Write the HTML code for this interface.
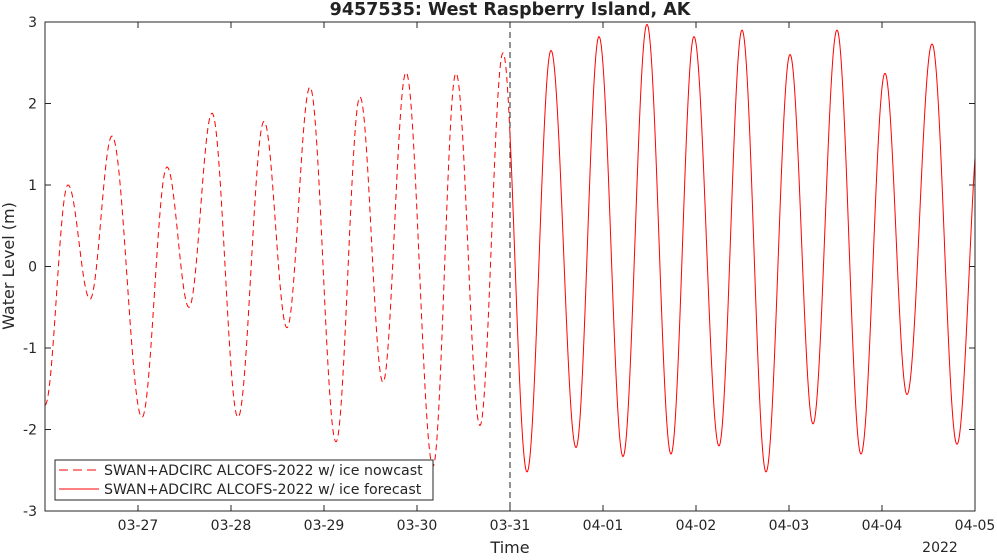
<!DOCTYPE html>
<html><head><meta charset="utf-8"><style>
body{margin:0;background:#fff;}
svg text{font-family:"DejaVu Sans","Liberation Sans",sans-serif;}
</style></head><body>
<svg id="chart" width="997" height="555" xmlns="http://www.w3.org/2000/svg">
<rect x="0" y="0" width="997" height="555" fill="#fff"/>
<text x="510" y="15" text-anchor="middle" font-size="17.5" font-weight="bold" fill="#222">9457535: West Raspberry Island, AK</text>
<g id="plot"></g>
<rect x="45" y="22" width="930" height="489" fill="none" stroke="#262626" stroke-width="1"/>
<text transform="translate(14,266) rotate(-90)" text-anchor="middle" font-size="16" fill="#262626">Water Level (m)</text>
<text x="510" y="553" text-anchor="middle" font-size="16" fill="#262626">Time</text>
<text x="940" y="552" text-anchor="middle" font-size="14" fill="#262626">2022</text>
<g>
<rect x="55" y="460" width="378" height="40" fill="#fff" stroke="#262626" stroke-width="1"/>
<line x1="59" y1="470" x2="99" y2="470" stroke="#f00" stroke-dasharray="9,5"/>
<text x="104" y="475" font-size="14.2" fill="#262626">SWAN+ADCIRC ALCOFS-2022 w/ ice nowcast</text>
<line x1="59" y1="489" x2="99" y2="489" stroke="#f00"/>
<text x="104" y="494" font-size="14.2" fill="#262626">SWAN+ADCIRC ALCOFS-2022 w/ ice forecast</text>
</g>
</svg>
<script>
// extrema: time in days since 03-26 00:00, water level in m
const extremaTimes=[0,0.247,0.484,0.720,1.043,1.312,1.548,1.796,2.075,2.355,2.602,2.849,3.129,3.387,3.634,3.882,4.172,4.419,4.677,4.925,5.183,5.441,5.710,5.957,6.215,6.473,6.731,6.978,7.247,7.495,7.753,8.011,8.258,8.516,8.774,9.032,9.269,9.538,9.806,10.065];
const extremaLevels=[-1.7,1.0,-0.4,1.6,-1.85,1.22,-0.5,1.88,-1.85,1.78,-0.75,2.2,-2.15,2.08,-1.42,2.38,-2.45,2.37,-1.95,2.62,-2.52,2.65,-2.22,2.82,-2.33,2.97,-2.3,2.82,-2.2,2.9,-2.52,2.6,-1.93,2.9,-2.3,2.37,-1.57,2.73,-2.18,1.95];
const forecastStart=5.0;
const xTickLabels=["03-27","03-28","03-29","03-30","03-31","04-01","04-02","04-03","04-04","04-05"];
const xTickDays=[1,2,3,4,5,6,7,8,9,10];
const yTicks=[-3,-2,-1,0,1,2,3];

const X0=45,X1=975,Y0=22,Y1=511,T0=0,T1=10,V0=-3,V1=3;
const xs=t=>X0+(t-T0)/(T1-T0)*(X1-X0);
const ys=v=>Y1-(v-V0)/(V1-V0)*(Y1-Y0);
const NS="http://www.w3.org/2000/svg";
const plot=document.getElementById('plot');
function el(tag,attrs){const e=document.createElementNS(NS,tag);for(const k in attrs)e.setAttribute(k,attrs[k]);plot.appendChild(e);return e;}
function level(t){
  for(let i=0;i<extremaTimes.length-1;i++){
    const a=extremaTimes[i],b=extremaTimes[i+1];
    if(t>=a&&t<=b){const f=(t-a)/(b-a);return extremaLevels[i]+(extremaLevels[i+1]-extremaLevels[i])*(1-Math.cos(Math.PI*f))/2;}
  }
  return extremaLevels[extremaLevels.length-1];
}
function path(ta,tb){let d="";const n=Math.round((tb-ta)*400);for(let i=0;i<=n;i++){const t=ta+(tb-ta)*i/n;d+=(i?"L":"M")+xs(t).toFixed(2)+","+ys(level(t)).toFixed(2);}return d;}
yTicks.forEach(v=>{
  const l=el('line',{x1:X0,x2:X0+6,y1:ys(v),y2:ys(v),stroke:'#262626'});
  
  const r=el('line',{x1:X1-6,x2:X1,y1:ys(v),y2:ys(v),stroke:'#262626'});
  
  const tx=el('text',{x:X0-8,y:ys(v)+5,'text-anchor':'end','font-size':14,fill:'#262626'});
  tx.textContent=String(v);
  
});
xTickDays.forEach((d,i)=>{
  const l=el('line',{x1:xs(d),x2:xs(d),y1:Y1,y2:Y1-6,stroke:'#262626'});
  
  const u=el('line',{x1:xs(d),x2:xs(d),y1:Y0,y2:Y0+6,stroke:'#262626'});
  
  const tx=el('text',{x:xs(d),y:530,'text-anchor':'middle','font-size':14,fill:'#262626'});
  tx.textContent=xTickLabels[i];
  
});
const vl=el('line',{x1:xs(forecastStart),x2:xs(forecastStart),y1:Y0,y2:Y1,stroke:'#262626','stroke-dasharray':'6,4'});

el('clipPath',{id:'clip'}).appendChild(document.createElementNS(NS,'rect'));
const cr=document.querySelector('#clip rect');cr.setAttribute('x',X0);cr.setAttribute('y',Y0);cr.setAttribute('width',X1-X0);cr.setAttribute('height',Y1-Y0);
const now=el('path',{d:path(T0,forecastStart),fill:'none',stroke:'#f00','stroke-width':1,'stroke-dasharray':'6,4','clip-path':'url(#clip)'});

const fc=el('path',{d:path(forecastStart,T1),fill:'none',stroke:'#f00','stroke-width':1,'clip-path':'url(#clip)'});

</script>
</body></html>
